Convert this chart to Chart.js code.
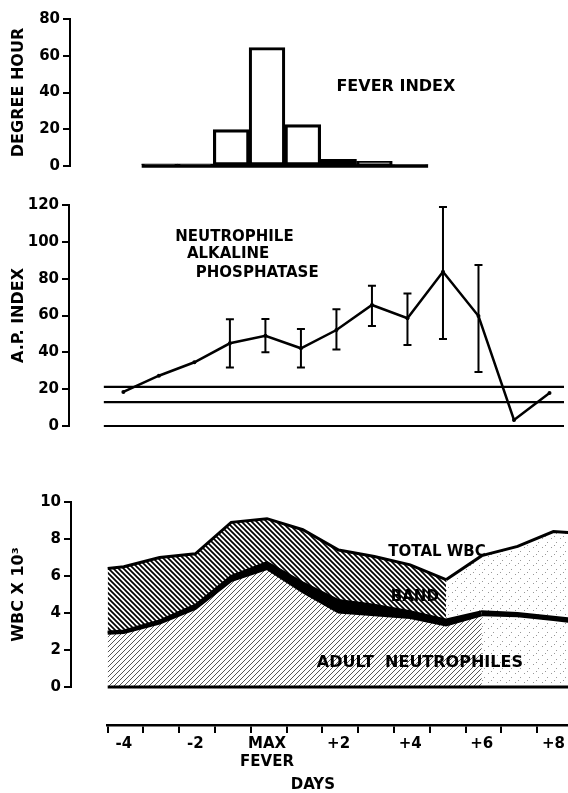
<!DOCTYPE html>
<html>
<head>
<meta charset="utf-8">
<script src="https://cdn.jsdelivr.net/npm/chart.js@4.4.1/dist/chart.umd.min.js"></script>
<style>
  body { margin: 0; background: #fff; }
  #page { position: relative; width: 568px; height: 793px; overflow: hidden; background: #fff; }
  canvas { position: absolute; left: 0; }
</style>
</head>
<body>
<div id="page">
  <canvas id="fever" width="568" height="171" style="top:7px"></canvas>
  <canvas id="ap" width="568" height="245" style="top:193px"></canvas>
  <canvas id="wbc" width="568" height="209" style="top:490px"></canvas>
  <canvas id="days" width="568" height="93" style="top:700px"></canvas>
</div>
<script>
// fever index (degree hours) per day
const feverDays = [-3, -2, -1, 0, 1, 2, 3, 4];
const feverIndex = [1.2, 1.2, 19.8, 64.5, 22.5, 3.6, 2.6, 0.7];
const feverTicks = [0, 20, 40, 60, 80];

// neutrophile alkaline phosphatase index
const apDays = [-4, -3, -2, -1, 0, 1, 2, 3, 4, 5, 6, 7, 8];
const apIndex = [18.5, 27.3, 34.6, 44.9, 49, 42.2, 52.1, 65.7, 58.5, 83.8, 59.7, 3.3, 17.9];
const apRangeDays = [-1, 0, 1, 2, 3, 4, 5, 6];
const apLow = [31.7, 40, 31.7, 41.6, 54.3, 44, 47.2, 29.3];
const apHigh = [57.9, 58.1, 52.7, 63.4, 76.2, 72, 118.9, 87.4];
const apNormal = [21.2, 13, 0];
const apTicks = [0, 20, 40, 60, 80, 100, 120];

// white cells x 10^3
const wbcDays = [-4.45, -4, -3, -2, -1, 0, 1, 2, 3, 4, 5, 6, 7, 8, 8.45];
const totalWbc = [6.4, 6.5, 7.0, 7.2, 8.9, 9.1, 8.5, 7.4, 7.05, 6.6, 5.8, 7.1, 7.6, 8.4, 8.35];
const adultNeutro = [2.9, 2.95, 3.45, 4.25, 5.75, 6.4, 5.15, 4.05, 3.9, 3.75, 3.35, 3.9, 3.85, 3.65, 3.55];
const bandNeutro = [0.1, 0.1, 0.15, 0.2, 0.25, 0.35, 0.5, 0.65, 0.55, 0.35, 0.3, 0.2, 0.15, 0.15, 0.15];
const wbcTicks = [0, 2, 4, 6, 8, 10];

// day axis
const dayTicks = [-4, -2, 0, 2, 4, 6, 8];
const dayLabels = ['-4', '-2', ['MAX', 'FEVER'], '+2', '+4', '+6', '+8'];

// page layout: where day 0 sits and how wide a day is
const DAY0 = 267;
const DAY_PX = 35.8;
const RIGHT = 568;
const TICK_SHIFT = 0.45; // day marks sit a little before each day
const dayAt = px => (px - DAY0) / DAY_PX;

Chart.defaults.font.family = '"DejaVu Sans", sans-serif';
Chart.defaults.font.weight = 'bold';
Chart.defaults.color = '#000';

function hatch(size, draw) {
  const c = document.createElement('canvas');
  c.width = size;
  c.height = size;
  const g = c.getContext('2d');
  draw(g, size);
  return g.createPattern(c, 'repeat');
}

const dense = hatch(5, (g, s) => {
  g.strokeStyle = '#000';
  g.lineWidth = 1.7;
  g.beginPath();
  g.moveTo(-1, -1); g.lineTo(s + 1, s + 1);
  g.moveTo(-1, s - 1); g.lineTo(1, s + 1);
  g.moveTo(s - 1, -1); g.lineTo(s + 1, 1);
  g.stroke();
});

const light = hatch(5, (g, s) => {
  g.strokeStyle = '#555';
  g.lineWidth = 1;
  g.beginPath();
  g.moveTo(-1, s + 1); g.lineTo(s + 1, -1);
  g.moveTo(-1, 1); g.lineTo(1, -1);
  g.moveTo(s - 1, s + 1); g.lineTo(s + 1, s - 1);
  g.stroke();
});

const stipple = hatch(9, (g) => {
  g.fillStyle = '#999';
  g.fillRect(2, 3, 1, 1);
  g.fillRect(7, 7, 1, 1);
  g.fillRect(5, 1, 1, 1);
});

const notes = {
  id: 'notes',
  afterDatasetsDraw(chart, args, opts) {
    const {ctx, scales} = chart;
    (opts.items || []).forEach(n => {
      ctx.save();
      ctx.font = n.font || 'bold 15px "DejaVu Sans"';
      ctx.fillStyle = '#000';
      ctx.textAlign = n.align || 'left';
      ctx.textBaseline = 'middle';
      const y = n.py !== undefined ? n.py : scales.y.getPixelForValue(n.y);
      ctx.fillText(n.text, scales.x.getPixelForValue(n.x), y);
      ctx.restore();
    });
  }
};

const errorBars = {
  id: 'errorBars',
  afterDatasetsDraw(chart) {
    const {ctx, scales: {x, y}} = chart;
    ctx.save();
    ctx.strokeStyle = '#000';
    ctx.lineWidth = 2;
    apRangeDays.forEach((d, i) => {
      const px = x.getPixelForValue(d);
      const top = y.getPixelForValue(apHigh[i]);
      const bot = y.getPixelForValue(apLow[i]);
      ctx.beginPath();
      ctx.moveTo(px, top); ctx.lineTo(px, bot);
      ctx.moveTo(px - 4, top); ctx.lineTo(px + 4, top);
      ctx.moveTo(px - 4, bot); ctx.lineTo(px + 4, bot);
      ctx.stroke();
    });
    ctx.restore();
  }
};

function yAxis(left, ticks, title) {
  return {
    min: ticks[0],
    max: ticks[ticks.length - 1],
    afterBuildTicks: s => { s.ticks = ticks.map(v => ({value: v})); },
    afterFit: s => { s.width = left; },
    border: {display: true, color: '#000', width: 2},
    grid: {drawOnChartArea: false, drawTicks: true, tickLength: 7, color: '#000', lineWidth: 2},
    ticks: {padding: 3, font: {size: 15, weight: 'bold'}},
    title: {display: true, text: title, font: {size: 16, weight: 'bold'}, padding: {top: 9, bottom: 0}}
  };
}

function xAxis(left) {
  return {
    type: 'linear',
    min: dayAt(left),
    max: dayAt(RIGHT),
    display: false,
    offset: false,
    grid: {offset: false}
  };
}

const common = {
  responsive: false,
  animation: false,
  events: [],
  layout: {padding: {left: 0, right: 0, top: 12, bottom: 12}}
};

// fever index
new Chart(document.getElementById('fever'), {
  type: 'bar',
  data: {
    datasets: [{
      data: feverDays.map((d, i) => ({x: d, y: feverIndex[i]})),
      backgroundColor: 'rgba(0,0,0,0)',
      borderColor: '#000',
      borderWidth: 2.5,
      borderSkipped: false,
      barPercentage: 1,
      categoryPercentage: 1
    }, {
      type: 'line',
      data: [{x: feverDays[0] - 0.5, y: 0}, {x: feverDays[feverDays.length - 1] + 0.5, y: 0}],
      borderColor: '#000',
      borderWidth: 3.5,
      pointRadius: 0,
      clip: false
    }]
  },
  options: Object.assign({}, common, {
    scales: {x: xAxis(70), y: yAxis(70, feverTicks, 'DEGREE HOUR')},
    plugins: {
      legend: {display: false},
      tooltip: {enabled: false},
      notes: {items: [{text: 'FEVER INDEX', x: 3.6, y: 43, align: 'center', font: 'bold 16px "DejaVu Sans"'}]}
    }
  }),
  plugins: [notes]
});

// alkaline phosphatase
const refLines = apNormal.map(v => ({
  data: [{x: -4.55, y: v}, {x: 8.6, y: v}],
  borderColor: '#000',
  borderWidth: 2.2,
  pointRadius: 0,
  clip: {left: 0, top: 5, right: 0, bottom: 5}
}));

new Chart(document.getElementById('ap'), {
  type: 'line',
  data: {
    datasets: [{
      data: apDays.map((d, i) => ({x: d, y: apIndex[i]})),
      borderColor: '#000',
      borderWidth: 2.5,
      pointRadius: 2,
      pointBackgroundColor: '#000',
      pointBorderWidth: 0,
      tension: 0
    }].concat(refLines)
  },
  options: Object.assign({}, common, {
    scales: {x: xAxis(69), y: yAxis(69, apTicks, 'A.P. INDEX')},
    plugins: {
      legend: {display: false},
      tooltip: {enabled: false},
      notes: {items: [
        {text: 'NEUTROPHILE', x: -2.54, y: 102.6},
        {text: 'ALKALINE', x: -2.21, y: 93.4},
        {text: 'PHOSPHATASE', x: -1.96, y: 83}
      ]}
    }
  }),
  plugins: [notes, errorBars]
});

// white cells
const bandTop = adultNeutro.map((v, i) => v + bandNeutro[i]);
const pts = arr => wbcDays.map((d, i) => ({x: d, y: arr[i]}));

new Chart(document.getElementById('wbc'), {
  type: 'line',
  data: {
    datasets: [
      {
        data: [{x: wbcDays[0], y: 0}, {x: wbcDays[wbcDays.length - 1], y: 0}],
        borderColor: '#000', borderWidth: 3, pointRadius: 0,
        clip: {left: 0, top: 5, right: 0, bottom: 5}
      },
      {
        data: pts(adultNeutro),
        borderColor: '#000', borderWidth: 3, pointRadius: 0, tension: 0,
        fill: 'origin', backgroundColor: light,
        segment: {backgroundColor: c => c.p0.parsed.x >= 6 ? stipple : undefined}
      },
      {
        data: pts(bandTop),
        borderColor: '#000', borderWidth: 2, pointRadius: 0, tension: 0,
        fill: '-1', backgroundColor: '#000'
      },
      {
        data: pts(totalWbc),
        borderColor: '#000', borderWidth: 3, pointRadius: 0, tension: 0,
        fill: '-1', backgroundColor: dense,
        segment: {backgroundColor: c => c.p0.parsed.x >= 5 ? stipple : undefined}
      }
    ]
  },
  options: Object.assign({}, common, {
    scales: {x: xAxis(71), y: yAxis(71, wbcTicks, 'WBC X 10\u00b3')},
    plugins: {
      legend: {display: false},
      tooltip: {enabled: false},
      notes: {items: [
        {text: 'TOTAL WBC', x: 4.75, y: 7.3, align: 'center'},
        {text: 'BAND', x: 4.13, y: 4.86, align: 'center'},
        {text: 'ADULT  NEUTROPHILES', x: 4.27, y: 1.3, align: 'center', font: 'bold 16px "DejaVu Sans"'}
      ]}
    }
  }),
  plugins: [notes]
});

// shared day axis
const dayMarks = [-4, -3, -2, -1, 0, 1, 2, 3, 4, 5, 6, 7, 8];

new Chart(document.getElementById('days'), {
  type: 'line',
  data: {datasets: []},
  options: Object.assign({}, common, {
    layout: {padding: {left: 107, right: 0, top: 5, bottom: 0}},
    scales: {
      x: {
        type: 'linear',
        min: dayAt(107),
        max: dayAt(RIGHT),
        afterBuildTicks: s => { s.ticks = dayMarks.map(d => ({value: d - TICK_SHIFT})); },
        afterFit: s => { s.height = 68; },
        border: {display: true, color: '#000', width: 2.5},
        grid: {drawOnChartArea: false, drawTicks: true, tickLength: 8, color: '#000', lineWidth: 2},
        ticks: {
          autoSkip: false,
          maxRotation: 0,
          padding: 2,
          labelOffset: DAY_PX * TICK_SHIFT,
          font: {size: 15, weight: 'bold'},
          callback: (v, i) => {
            const j = dayTicks.indexOf(dayMarks[i]);
            return j >= 0 ? dayLabels[j] : '';
          }
        }
      },
      y: {display: false}
    },
    plugins: {
      legend: {display: false},
      tooltip: {enabled: false},
      notes: {items: [{text: 'DAYS', x: 1.28, py: 85, align: 'center'}]}
    }
  }),
  plugins: [notes]
});
</script>
</body>
</html>
